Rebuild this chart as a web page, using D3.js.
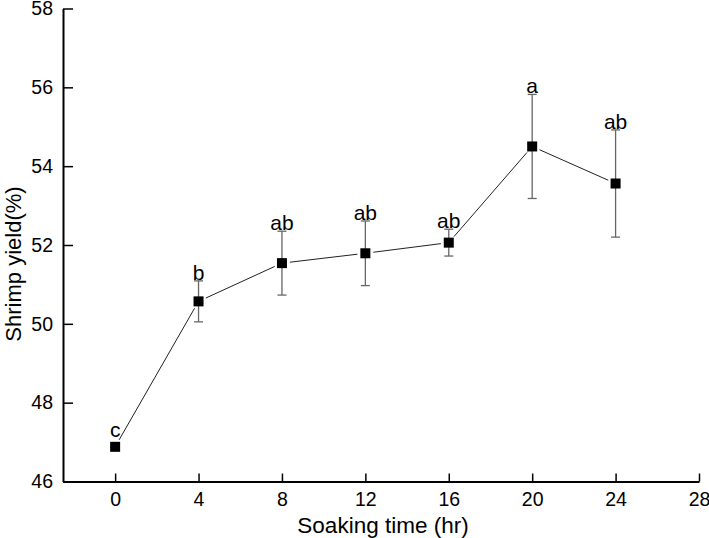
<!DOCTYPE html>
<html>
<head>
<meta charset="utf-8">
<script src="https://cdn.jsdelivr.net/npm/d3@7"></script>
<style>
  body { margin: 0; background: #fff; }
  svg { display: block; font-family: "Liberation Sans", Arial, sans-serif; }
</style>
</head>
<body>
<svg id="chart"></svg>
<script>
// data
const hours = [0, 4, 8, 12, 16, 20, 24];
const yieldMean = [46.88, 50.57, 51.54, 51.79, 52.06, 54.50, 53.56];
const yieldErr = [0, 0.52, 0.81, 0.82, 0.34, 1.32, 1.36];
const letters = ["c", "b", "ab", "ab", "ab", "a", "ab"];
const xTicks = [0, 4, 8, 12, 16, 20, 24, 28];
const yTicks = [46, 48, 50, 52, 54, 56, 58];

const width = 709;
const height = 538;
const margin = { top: 8.5, right: 10, bottom: 56.5, left: 63 };

const svg = d3.select("#chart").attr("width", width).attr("height", height);

const x = d3.scaleLinear()
    .domain([-2.5, 28])
    .range([margin.left, width - margin.right]);

const y = d3.scaleLinear()
    .domain([46, 58])
    .range([height - margin.bottom, margin.top]);

const data = hours.map((h, i) => ({ h: h, m: yieldMean[i], e: yieldErr[i], l: letters[i] }));

// axes, ticks pointing inward
const xAxis = svg.append("g")
    .attr("transform", `translate(0,${y(46)})`)
    .call(d3.axisBottom(x).tickValues(xTicks).tickSizeInner(-8).tickSizeOuter(0).tickPadding(11));

const yAxis = svg.append("g")
    .attr("transform", `translate(${x(-2.5)},0)`)
    .call(d3.axisLeft(y).tickValues(yTicks).tickSizeInner(-10).tickSizeOuter(0).tickPadding(10));

[xAxis, yAxis].forEach(g => {
    g.select(".domain").attr("stroke", "#000").attr("stroke-width", 2);
    g.selectAll(".tick line").attr("stroke", "#000").attr("stroke-width", 1.5);
    g.selectAll(".tick text").attr("font-size", 19.5).attr("fill", "#000");
});

// connecting line, broken a little around each marker
const gap = 8;
for (let i = 0; i < data.length - 1; i++) {
    const x1 = x(data[i].h), y1 = y(data[i].m);
    const x2 = x(data[i + 1].h), y2 = y(data[i + 1].m);
    const len = Math.hypot(x2 - x1, y2 - y1);
    const ux = (x2 - x1) / len, uy = (y2 - y1) / len;
    svg.append("line")
        .attr("x1", x1 + ux * gap).attr("y1", y1 + uy * gap)
        .attr("x2", x2 - ux * gap).attr("y2", y2 - uy * gap)
        .attr("stroke", "#222").attr("stroke-width", 1);
}

// error bars
const eb = svg.append("g").attr("stroke", "#666").attr("stroke-width", 1.3);
data.filter(d => d.e > 0).forEach(d => {
    eb.append("line")
        .attr("x1", x(d.h)).attr("x2", x(d.h))
        .attr("y1", y(d.m + d.e)).attr("y2", y(d.m - d.e));
    [d.m + d.e, d.m - d.e].forEach(v => {
        eb.append("line")
            .attr("x1", x(d.h) - 4.5).attr("x2", x(d.h) + 4.5)
            .attr("y1", y(v)).attr("y2", y(v));
    });
});

// square markers
svg.selectAll("rect.pt")
    .data(data)
    .join("rect")
    .attr("class", "pt")
    .attr("x", d => x(d.h) - 5)
    .attr("y", d => y(d.m) - 5)
    .attr("width", 10)
    .attr("height", 10)
    .attr("fill", "#000");

// significance letters
svg.selectAll("text.sig")
    .data(data)
    .join("text")
    .attr("class", "sig")
    .attr("x", d => x(d.h))
    .attr("y", d => d.e > 0 ? y(d.m + d.e) - 1 : y(d.m) - 10)
    .attr("text-anchor", "middle")
    .attr("font-size", 21)
    .attr("fill", "#000")
    .text(d => d.l);

// axis titles
svg.append("text")
    .attr("x", 383)
    .attr("y", 533)
    .attr("text-anchor", "middle")
    .attr("font-size", 22.5)
    .text("Soaking time (hr)");

svg.append("text")
    .attr("transform", "translate(21,264) rotate(-90)")
    .attr("text-anchor", "middle")
    .attr("font-size", 22)
    .text("Shrimp yield(%)");
</script>
</body>
</html>
